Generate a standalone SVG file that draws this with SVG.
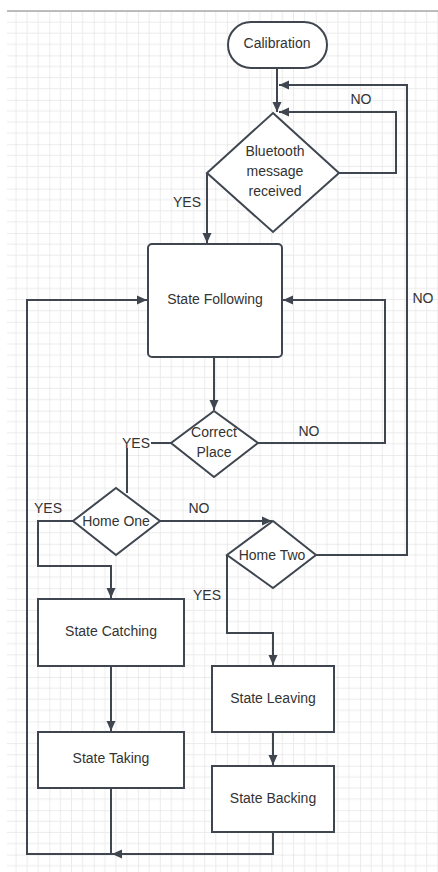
<svg xmlns="http://www.w3.org/2000/svg" width="438" height="872" viewBox="0 0 438 872">
<defs>
<pattern id="grid" patternUnits="userSpaceOnUse" x="4.9" y="11" width="44.4" height="44.4">
<path d="M11.1,0V44.4M22.2,0V44.4M33.3,0V44.4M0,11.1H44.4M0,22.2H44.4M0,33.3H44.4" stroke="#ebebeb" stroke-width="1" fill="none"/>
<path d="M0,0V44.4M0,0H44.4" stroke="#d9d9d9" stroke-width="1" fill="none"/>
</pattern>
<marker id="arr" markerUnits="userSpaceOnUse" markerWidth="10" markerHeight="10" viewBox="0 0 10 10" refX="10" refY="5" orient="auto">
<path d="M0,0.5L10,5L0,9.5z" fill="#3f4650"/>
</marker>
</defs>
<style>
.node{fill:#fff;stroke:#3f4650;stroke-width:2}
.lbl{font-family:"Liberation Sans",Arial,sans-serif;font-size:14px;fill:#333;text-anchor:middle}
.edge{fill:none;stroke:#3f4650;stroke-width:2}
</style>
<rect x="0" y="0" width="438" height="872" fill="#fff"/>
<rect x="7" y="11" width="431" height="861" fill="url(#grid)"/>
<line x1="7" y1="11" x2="438" y2="11" stroke="#a8a8a8" stroke-width="1.5"/>

<g id="connectors">
<path class="edge" d="M277,68V112" marker-end="url(#arr)"/>
<path class="edge" d="M338,173H396V112H279" marker-end="url(#arr)"/>
<path class="edge" d="M207,173V243" marker-end="url(#arr)"/>
<path class="edge" d="M316,555H407V85H279" marker-end="url(#arr)"/>
<path class="edge" d="M214,357V410" marker-end="url(#arr)"/>
<path class="edge" d="M258,443H385V300H283" marker-end="url(#arr)"/>
<path class="edge" d="M171,443H127V493"/>
<path class="edge" d="M73,521H38V566H111V598" marker-end="url(#arr)"/>
<path class="edge" d="M160,521H272" marker-end="url(#arr)"/>
<path class="edge" d="M227,555V633H273V665" marker-end="url(#arr)"/>
<path class="edge" d="M111,666V731" marker-end="url(#arr)"/>
<path class="edge" d="M273,732V765" marker-end="url(#arr)"/>
<path class="edge" d="M111,788V854H27V300H147" marker-end="url(#arr)"/>
<path class="edge" d="M273,832V854H112" marker-end="url(#arr)"/>
<text class="lbl" x="361" y="104">NO</text>
<text class="lbl" x="187" y="207">YES</text>
<text class="lbl" x="423" y="303">NO</text>
<text class="lbl" x="309" y="436">NO</text>
<rect x="121" y="436" width="30" height="12" fill="#fff"/>
<text class="lbl" x="136" y="448">YES</text>
<text class="lbl" x="48" y="513">YES</text>
<text class="lbl" x="199" y="513">NO</text>
<text class="lbl" x="207" y="600">YES</text>
</g>

<g id="calibration">
<rect class="node" x="228" y="22" width="99" height="46" rx="23"/>
<text class="lbl" x="277" y="48">Calibration</text>
</g>
<g id="bluetooth">
<polygon class="node" points="273,113 339,173 273,232 207,173"/>
<text class="lbl" x="275" y="156">Bluetooth</text>
<text class="lbl" x="275" y="176">message</text>
<text class="lbl" x="275" y="196">received</text>
</g>
<g id="state-following">
<rect class="node" x="148" y="244" width="134" height="113" rx="4"/>
<text class="lbl" x="215" y="304">State Following</text>
</g>
<g id="correct-place">
<polygon class="node" points="214,411 258,443 214,477 171,443"/>
<text class="lbl" x="214" y="437">Correct</text>
<text class="lbl" x="214" y="457">Place</text>
</g>
<g id="home-one">
<polygon class="node" points="116,488 160,521 116,555 73,521"/>
<text class="lbl" x="116" y="526">Home One</text>
</g>
<g id="home-two">
<polygon class="node" points="273,521 316,555 273,588 227,555"/>
<text class="lbl" x="272" y="560">Home Two</text>
</g>
<g id="state-catching">
<rect class="node" x="38" y="599" width="146" height="67"/>
<text class="lbl" x="111" y="636">State Catching</text>
</g>
<g id="state-taking">
<rect class="node" x="38" y="732" width="146" height="56"/>
<text class="lbl" x="111" y="763">State Taking</text>
</g>
<g id="state-leaving">
<rect class="node" x="212" y="666" width="122" height="66"/>
<text class="lbl" x="273" y="703">State Leaving</text>
</g>
<g id="state-backing">
<rect class="node" x="212" y="766" width="122" height="66"/>
<text class="lbl" x="273" y="803">State Backing</text>
</g>
</svg>
